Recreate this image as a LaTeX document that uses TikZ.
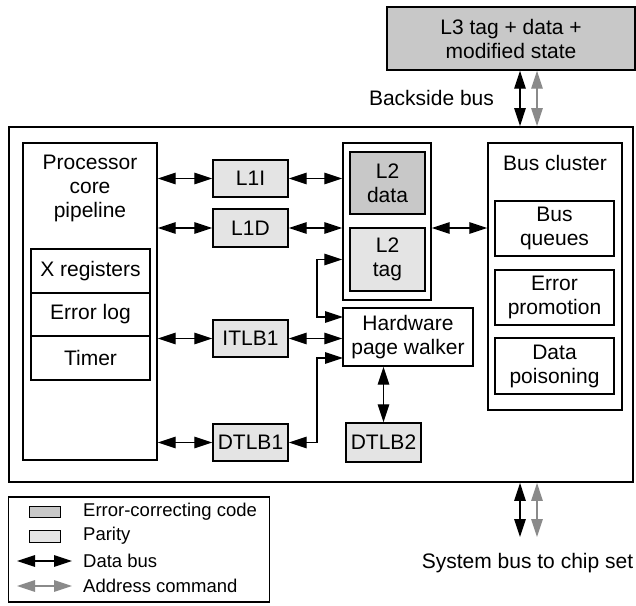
\documentclass[tikz,border=0pt]{standalone}
\usepackage{fontspec}
\setmainfont{Liberation Sans}
\usetikzlibrary{arrows.meta}
\definecolor{eccgray}{HTML}{C8C8C8}
\definecolor{paritygray}{HTML}{E4E4E4}
\definecolor{addrgray}{HTML}{8A8A8A}
\tikzset{
  box/.style={draw=black, line width=1.4pt, rectangle, inner sep=0pt, align=center,
    font=\fontsize{21}{24}\selectfont},
  eccbox/.style={box, fill=eccgray},
  parbox/.style={box, fill=paritygray},
  lbl/.style={inner sep=0pt, align=center, font=\fontsize{21}{24}\selectfont},
  leglbl/.style={inner sep=0pt, anchor=west, font=\fontsize{18.5}{22}\selectfont},
  dbus/.style={draw=black, line width=1.3pt,
    {Triangle[length=18pt,width=11.5pt]}-{Triangle[length=18pt,width=11.5pt]}},
  abus/.style={draw=addrgray, line width=1.3pt,
    {Triangle[length=18pt,width=11.5pt]}-{Triangle[length=18pt,width=11.5pt]}}
}
\begin{document}
\begin{tikzpicture}[x=1pt, y=-1pt]
\useasboundingbox (0,0) rectangle (636,605);

% L3 cache outside the chip
\node[eccbox, minimum width=248pt, minimum height=63pt] (L3) at (511,38.5)
  {L3 tag + data +\\modified state};

% chip outline
\node[box, line width=1.8pt, minimum width=624pt, minimum height=355pt] (chip) at (321,304.5) {};

% processor core
\node[box, minimum width=134pt, minimum height=317pt] (core) at (90,301.5) {};
\node[lbl] (coretxt) at (90,188.5) {Processor\\core\\pipeline};
\node[box, minimum width=119pt, minimum height=44pt] (xreg) at (90.5,271) {X registers};
\node[box, minimum width=119pt, minimum height=43pt] (errlog) at (90.5,314.5) {Error log};
\node[box, minimum width=119pt, minimum height=44pt] (timer) at (90.5,358) {Timer};

% first-level structures
\node[parbox, minimum width=75pt, minimum height=37pt] (L1I) at (250.5,178.5) {L1I};
\node[parbox, minimum width=75pt, minimum height=38pt] (L1D) at (250.5,228) {L1D};
\node[parbox, minimum width=75pt, minimum height=37pt] (ITLB1) at (250.5,338.5) {ITLB1};
\node[parbox, minimum width=75pt, minimum height=37pt] (DTLB1) at (250.5,442.5) {DTLB1};

% second-level cache
\node[box, minimum width=88pt, minimum height=157pt] (L2) at (387,221.5) {};
\node[eccbox, minimum width=75pt, minimum height=62pt] (L2data) at (387.5,183) {L2\\data};
\node[parbox, minimum width=75pt, minimum height=63pt] (L2tag) at (387.5,259.5) {L2\\tag};

% page walker and second-level DTLB
\node[box, minimum width=130pt, minimum height=58pt] (walker) at (408,337) {Hardware\\page walker};
\node[parbox, minimum width=75pt, minimum height=39pt] (DTLB2) at (383.5,442.5) {DTLB2};

% bus cluster
\node[box, minimum width=134pt, minimum height=267pt] (bus) at (555,276.5) {};
\node[lbl] (bustxt) at (555,163) {Bus cluster};
\node[box, minimum width=119pt, minimum height=55pt] (bq) at (554.5,228.5) {Bus\\queues};
\node[box, minimum width=119pt, minimum height=55pt] (ep) at (554.5,297.5) {Error\\promotion};
\node[box, minimum width=119pt, minimum height=56pt] (dp) at (554.5,366) {Data\\poisoning};

% data paths inside the chip
\draw[dbus] (L1I.west -| core.east) -- (L1I.west);
\draw[dbus] (L1I.east) -- (L1I.east -| L2.west);
\draw[dbus] (L1D.west -| core.east) -- (L1D.west);
\draw[dbus] (L1D.east) -- (L1D.east -| L2.west);
\draw[dbus] (L1D.east -| L2.east) -- (L1D.east -| bus.west);
\draw[dbus] (ITLB1.west -| core.east) -- (ITLB1.west);
\draw[dbus] (ITLB1.east) -- (ITLB1.east -| walker.west);
\draw[dbus] (DTLB1.west -| core.east) -- (DTLB1.west);
\draw[dbus] (DTLB2.north |- walker.south) -- (DTLB2.north);

% page walker links to L2 tag and DTLB1
\coordinate (tagin) at (343,317);
\coordinate (dtlbin) at (343,358);
\draw[dbus] (L2tag.west -| L2.west) -- (317,259.5) -- (317,317) -- (tagin);
\draw[dbus] (DTLB1.east) -- (317,442.5) -- (317,358) -- (dtlbin);

% backside bus
\draw[dbus] (L3.south -| 520,0) -- (chip.north -| 520,0);
\draw[abus] (L3.south -| 537,0) -- (chip.north -| 537,0);
\node[lbl] (bsl) at (431.5,98) {Backside bus};

% system bus
\coordinate (sysd) at (520,537);
\coordinate (sysa) at (537,537);
\draw[dbus] (chip.south -| sysd) -- (sysd);
\draw[abus] (chip.south -| sysa) -- (sysa);
\node[lbl] (sysl) at (527.5,563) {System bus to chip set};

% legend
\node[box, line width=1.2pt, minimum width=261pt, minimum height=105pt] (legend) at (139,549.5) {};
\node[eccbox, line width=1pt, minimum width=31pt, minimum height=11pt] (kecc) at (44.5,512) {};
\node[parbox, line width=1pt, minimum width=31pt, minimum height=12pt] (kpar) at (44.5,536) {};
\coordinate (kd1) at (17,561);
\coordinate (kd2) at (72,561);
\coordinate (ka1) at (17,586);
\coordinate (ka2) at (72,586);
\draw[dbus] (kd1) -- (kd2);
\draw[abus] (ka1) -- (ka2);
\node[leglbl] (tecc) at (83,512) {Error-correcting code};
\node[leglbl] (tpar) at (83,536) {Parity};
\node[leglbl] (tdat) at (83,561) {Data bus};
\node[leglbl] (tadr) at (83,586) {Address command};
\end{tikzpicture}
\end{document}
